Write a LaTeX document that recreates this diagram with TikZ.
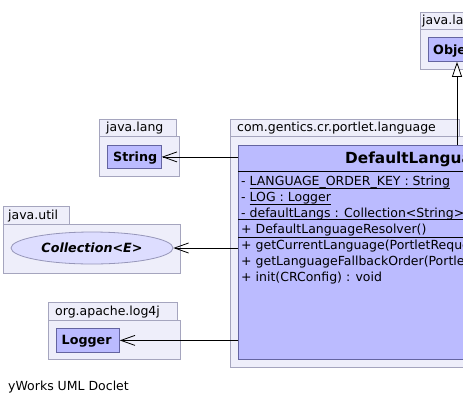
\documentclass[tikz,border=0pt]{standalone}
\usepackage{fontspec}
\setmainfont{DejaVu Sans}
\usetikzlibrary{arrows.meta,shapes.geometric}
\definecolor{pkgfill}{RGB}{238,238,250}
\definecolor{pkgdraw}{RGB}{165,165,190}
\definecolor{clsfill}{RGB}{187,187,255}
\definecolor{clsdraw}{RGB}{100,100,160}
\definecolor{elfill}{RGB}{221,221,255}
\definecolor{eldraw}{RGB}{150,150,185}
\newcommand\ulx[1]{\setbox0\hbox{#1}\rlap{\rule[-2.95pt]{\wd0}{0.65pt}}\box0}
\begin{document}
\begin{tikzpicture}[x=1pt,y=-1pt,
  pkg/.style={draw=pkgdraw,fill=pkgfill,line width=0.8pt,anchor=north west,inner sep=0pt},
  cls/.style={draw=clsdraw,fill=clsfill,line width=0.8pt,anchor=north west,inner sep=0pt},
  txt/.style={anchor=base west,inner sep=0pt,font=\fontsize{12.5}{15}\selectfont},
  btxt/.style={anchor=base west,inner sep=0pt,font=\fontsize{12.7}{15}\selectfont\bfseries},
  dep/.style={line width=0.8pt,-{Straight Barb[length=14pt,width=10pt,line width=0.8pt]}},
  gen/.style={line width=0.8pt,-{Triangle[open,length=15pt,width=10pt,line width=0.8pt,fill=white]}}]
\useasboundingbox (0,0) rectangle (463,405);
\clip (0,0) rectangle (463,405);
\fill[white] (0,0) rectangle (463,405);

% java.lang (Object)
\node[pkg,minimum width=60pt,minimum height=18pt] (otab) at (420,12) {};
\node[pkg,minimum width=60pt,minimum height=40pt] (opkg) at (420,29) {};
\node[txt] (olbl) at (422,24.5) {java.lang};
\node[cls,minimum width=60pt,minimum height=24pt] (obj) at (428,37) {};
\node[btxt] (objt) at (433,54) {Object};

% java.lang (String)
\node[pkg,minimum width=77pt,minimum height=17pt] (stab) at (99,119) {};
\node[pkg,minimum width=80pt,minimum height=40pt] (spkg) at (99,136) {};
\node[txt] (slbl) at (106,131.5) {java.lang};
\node[cls,minimum width=54pt,minimum height=23pt] (str) at (107,145) {};
\node[btxt] (strt) at (113,161) {String};

% java.util
\node[pkg,minimum width=66pt,minimum height=18pt] (utab) at (3,206) {};
\node[pkg,minimum width=177pt,minimum height=49pt] (upkg) at (3,224) {};
\node[txt] (ulbl) at (8,219.5) {java.util};
\node[ellipse,draw=eldraw,fill=elfill,line width=0.8pt,minimum width=162pt,minimum height=32pt,inner sep=0pt,
  font=\fontsize{12.7}{15}\selectfont\bfseries\itshape] (coll) at (92,248) {Collection<E>};

% org.apache.log4j
\node[pkg,minimum width=129pt,minimum height=18pt] (ltab) at (48,302) {};
\node[pkg,minimum width=132pt,minimum height=39pt] (lpkg) at (48,320) {};
\node[txt] (llbl) at (55,315.5) {org.apache.log4j};
\node[cls,minimum width=63pt,minimum height=24pt] (log) at (56,328) {};
\node[btxt] (logt) at (61.5,344.5) {Logger};

% com.gentics.cr.portlet.language
\node[pkg,minimum width=229pt,minimum height=17pt] (ctab) at (230,119) {};
\node[pkg,minimum width=300pt,minimum height=231pt] (cpkg) at (230,136) {};
\node[txt] (clbl) at (237,131.5) {com.gentics.cr.portlet.language};
\node[cls,minimum width=300pt,minimum height=214pt] (cls) at (238,145) {};
\draw[line width=0.8pt] (238,171) -- (538,171);
\draw[line width=0.8pt] (238,219.5) -- (538,219.5);
\draw[line width=0.8pt] (238,237.5) -- (538,237.5);
\node[anchor=base west,inner sep=0pt,font=\fontsize{15.3}{18}\selectfont\bfseries] (title) at (345,163.5) {DefaultLanguageResolver};
\node[txt] (a1) at (241,185.3) {- \ulx{LANGUAGE\_ORDER\_KEY : String}};
\node[txt] (a2) at (241,201.3) {- \ulx{LOG : Logger}};
\node[txt] (a3) at (241,217) {- defaultLangs : Collection<String>};
\node[txt] (c1) at (241,233) {+ DefaultLanguageResolver()};
\node[txt] (m1) at (241,249.6) {+ getCurrentLanguage(PortletRequest) : String};
\node[txt] (m2) at (241,265.3) {+ getLanguageFallbackOrder(PortletRequest) : Collection<String>};
\node[txt] (m3) at (241,281.3) {+ init(CRConfig) : void};

% connectors
\coordinate (gx) at (457,0);
\draw[gen] (gx |- cls.north) -- (gx |- obj.south);
\draw[dep] (cls.west |- str.east) -- (str.east);
\draw[dep] (cls.west |- coll.east) -- (coll.east);
\draw[dep] (cls.west |- log.east) -- (log.east);

\node[txt] (foot) at (8,390.5) {yWorks UML Doclet};
\end{tikzpicture}
\end{document}
